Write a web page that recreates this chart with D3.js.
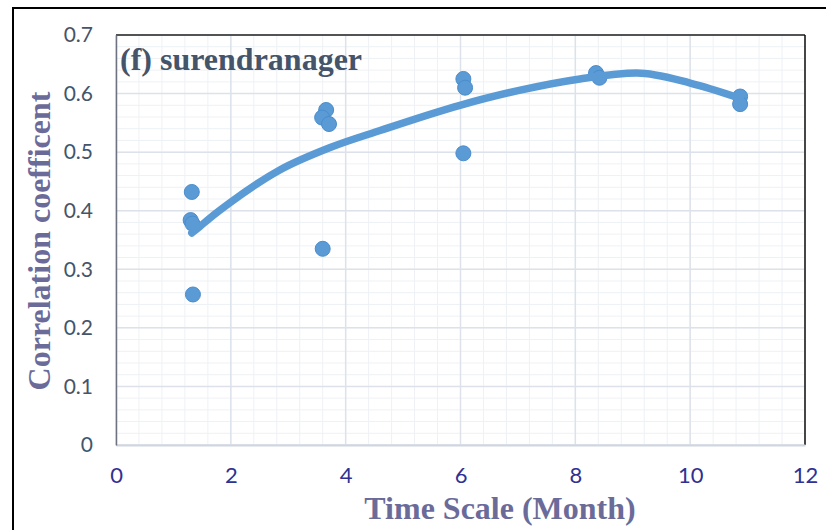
<!DOCTYPE html>
<html>
<head>
<meta charset="utf-8">
<script src="https://cdn.jsdelivr.net/npm/d3@7"></script>
<style>
  body { margin: 0; background: #fff; }
  svg { display: block; }
</style>
</head>
<body>
<div id="chart"></div>
<script>
// scatter values
const monthX = [1.32, 1.30, 1.33, 1.34, 3.60, 3.66, 3.59, 3.71, 6.05, 6.08, 6.05, 8.36, 8.42, 10.87, 10.87];
const corr = [0.432, 0.384, 0.378, 0.257, 0.335, 0.572, 0.559, 0.548, 0.625, 0.610, 0.498, 0.635, 0.627, 0.595, 0.582];

// trendline
const trendX = [1.32, 1.46, 1.63, 1.99, 2.86, 3.73, 4.60, 5.99, 7.0, 8.08, 9.07, 10.0, 10.87];
const trendY = [0.362, 0.373, 0.387, 0.414, 0.470, 0.508, 0.537, 0.580, 0.605, 0.625, 0.635, 0.618, 0.592];

const xTicks = [0, 2, 4, 6, 8, 10, 12];
const yTicks = [0, 0.1, 0.2, 0.3, 0.4, 0.5, 0.6, 0.7];

const W = 826, H = 530;
const plot = {left: 116, top: 35, right: 805, bottom: 445};
const blue = '#5b9bd5';

const svg = d3.select('#chart').append('svg')
    .attr('width', W)
    .attr('height', H);

// outer frame
svg.append('rect')
    .attr('x', 13).attr('y', 8)
    .attr('width', 900).attr('height', 600)
    .attr('fill', '#fff')
    .attr('stroke', '#000')
    .attr('stroke-width', 2);

const x = d3.scaleLinear().domain([0, 12]).range([plot.left, plot.right]);
const y = d3.scaleLinear().domain([0, 0.7]).range([plot.bottom, plot.top]);

// minor grid
const minorX = d3.range(0, 12.001, 0.4);
const minorY = d3.range(0, 0.7001, 0.02);
svg.append('g')
    .selectAll('line')
    .data(minorX)
    .join('line')
    .attr('x1', d => x(d)).attr('x2', d => x(d))
    .attr('y1', plot.top).attr('y2', plot.bottom)
    .attr('stroke', '#eef1f5').attr('stroke-width', 1);
svg.append('g')
    .selectAll('line')
    .data(minorY)
    .join('line')
    .attr('y1', d => y(d)).attr('y2', d => y(d))
    .attr('x1', plot.left).attr('x2', plot.right)
    .attr('stroke', '#eef1f5').attr('stroke-width', 1);

// major grid
svg.append('g')
    .selectAll('line')
    .data(xTicks)
    .join('line')
    .attr('x1', d => x(d)).attr('x2', d => x(d))
    .attr('y1', plot.top).attr('y2', plot.bottom)
    .attr('stroke', '#dde2ea').attr('stroke-width', 1.5);
svg.append('g')
    .selectAll('line')
    .data(yTicks)
    .join('line')
    .attr('y1', d => y(d)).attr('y2', d => y(d))
    .attr('x1', plot.left).attr('x2', plot.right)
    .attr('stroke', '#dde2ea').attr('stroke-width', 1.5);

// plot border: dark top/right, gray axis lines
svg.append('line')
    .attr('x1', plot.left).attr('x2', plot.right)
    .attr('y1', plot.top).attr('y2', plot.top)
    .attr('stroke', '#222').attr('stroke-width', 1.5);
svg.append('line')
    .attr('x1', plot.right).attr('x2', plot.right)
    .attr('y1', plot.top).attr('y2', plot.bottom)
    .attr('stroke', '#111').attr('stroke-width', 1.5);

// axes
const xAxis = svg.append('g')
    .attr('transform', `translate(0,${plot.bottom})`)
    .call(d3.axisBottom(x).tickValues(xTicks).tickSize(0).tickPadding(22).tickFormat(d3.format('d')));
xAxis.select('.domain').attr('stroke', '#d0d5de').attr('stroke-width', 2);
xAxis.selectAll('text')
    .attr('fill', '#2e3192')
    .attr('font-family', 'Lato, "Open Sans", sans-serif')
    .attr('font-size', 22);

const yAxis = svg.append('g')
    .attr('transform', `translate(${plot.left},0)`)
    .call(d3.axisLeft(y).tickValues(yTicks).tickSize(0).tickPadding(23).tickFormat(d => d === 0 ? '0' : d3.format('.1f')(d)));
yAxis.select('.domain').attr('stroke', '#6e7381').attr('stroke-width', 1.5);
yAxis.selectAll('text')
    .attr('fill', '#44546a')
    .attr('font-family', 'Lato, "Open Sans", sans-serif')
    .attr('font-size', 21);

// points
const pts = monthX.map((m, i) => ({m: m, c: corr[i]}));
svg.append('g')
    .selectAll('circle')
    .data(pts)
    .join('circle')
    .attr('cx', d => x(d.m))
    .attr('cy', d => y(d.c))
    .attr('r', 7.5)
    .attr('fill', blue)
    .attr('stroke', '#4a8ccc')
    .attr('stroke-width', 1);

// trendline
const trend = trendX.map((t, i) => [t, trendY[i]]);
const line = d3.line()
    .x(d => x(d[0]))
    .y(d => y(d[1]))
    .curve(d3.curveMonotoneX);
svg.append('path')
    .datum(trend)
    .attr('d', line)
    .attr('fill', 'none')
    .attr('stroke', blue)
    .attr('stroke-width', 7.5)
    .attr('stroke-linecap', 'round');

// titles
svg.append('text')
    .attr('x', 120).attr('y', 70)
    .attr('fill', '#44546a')
    .attr('font-family', '"Liberation Serif", "Times New Roman", serif')
    .attr('font-weight', 'bold')
    .attr('font-size', 32)
    .text('(f) surendranager');

svg.append('text')
    .attr('x', 500).attr('y', 519)
    .attr('text-anchor', 'middle')
    .attr('fill', '#6b6b9a')
    .attr('font-family', '"Liberation Serif", "Times New Roman", serif')
    .attr('font-weight', 'bold')
    .attr('font-size', 32)
    .text('Time Scale (Month)');

svg.append('text')
    .attr('transform', 'translate(50,241) rotate(-90)')
    .attr('text-anchor', 'middle')
    .attr('fill', '#6b6b9a')
    .attr('font-family', '"Liberation Serif", "Times New Roman", serif')
    .attr('font-weight', 'bold')
    .attr('font-size', 32)
    .text('Correlation coefficent');
</script>
</body>
</html>
